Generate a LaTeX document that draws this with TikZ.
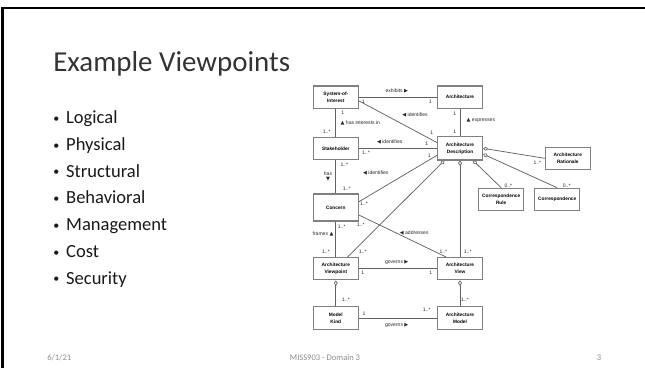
\documentclass[tikz,border=0pt]{standalone}
\usepackage{fontspec}
\setmainfont{Carlito}
\newfontfamily\diagfont{Liberation Sans}
\newfontfamily\trifont{DejaVu Sans}
\usetikzlibrary{arrows.meta}

% little filled triangles for the reading direction of an association
\newcommand{\trR}{{\trifont ▶}}
\newcommand{\trL}{{\trifont ◀}}
\newcommand{\trU}{{\trifont ▲}}
\newcommand{\trD}{{\trifont ▼}}
% small slide bullet
\newcommand{\slidebullet}{\raisebox{0.9pt}{\fontsize{9}{9}\selectfont•}}

\tikzset{
  umlbox/.style={draw=black!50, line width=0.8pt, fill=white, minimum width=33.75pt,
    minimum height=16.8pt, inner sep=0.5pt, align=center,
    font=\diagfont\bfseries\fontsize{3.6}{5.2}\selectfont},
  conn/.style={draw=black!62, line width=0.55pt},
  agg/.style={conn, -{Diamond[open, fill=white, length=4pt, width=3pt, line width=0.5pt]}},
  lbl/.style={inner sep=0.3pt, text=black!85, font=\diagfont\fontsize{3.8}{4.4}\selectfont},
  mult/.style={lbl},
  bulletitem/.style={anchor=base west, inner sep=0pt, text=black!90, font=\fontsize{13.9}{16}\selectfont},
  foot/.style={inner sep=0pt, text=black!45, font=\fontsize{6.4}{7}\selectfont}
}

\begin{document}
\begin{tikzpicture}[x=0.75pt,y=0.75pt,yscale=-1]
\path[use as bounding box] (0,0) rectangle (645,368);

%Slide frame
\draw [line width=1.9pt] (2.5,368) -- (2.5,8) -- (645,8) ;

% Text Node
\node (title) [anchor=base west, inner sep=0pt, text=black!80, font=\fontsize{21.7}{26}\selectfont] at (53,71.7) {Example Viewpoints};
% Bullets
\foreach \txt [count=\i from 0] in {Logical,Physical,Structural,Behavioral,Management,Cost,Security}
  \node (b\i) [bulletitem] at (53,123.5+26.75*\i) {\slidebullet\hspace{5.2pt}\txt};

%Shape: Rectangle
\node (soi) [umlbox] at (335.8,97.2) {System-of-\\Interest};
\node (arch) [umlbox] at (460,97.2) {Architecture};
\node (stk) [umlbox] at (335.8,148.3) {Stakeholder};
\node (ad) [umlbox, minimum height=17.5pt] at (460,148.3) {Architecture\\Description};
\node (rat) [umlbox] at (567.8,158.3) {Architecture\\Rationale};
\node (crule) [umlbox] at (501.2,199.5) {Correspondence\\Rule};
\node (corr) [umlbox] at (557.2,199.5) {Correspondence};
\node (conc) [umlbox, minimum height=20.25pt] at (335.8,207.5) {Concern};
\node (avp) [umlbox] at (335.8,268.7) {Architecture\\Viewpoint};
\node (avw) [umlbox] at (460,268.7) {Architecture\\View};
\node (mk) [umlbox] at (335.8,318) {Model\\Kind};
\node (am) [umlbox] at (460,318) {Architecture\\Model};

%Straight Lines
\draw [conn] (soi.east) -- (arch.west) ;
\draw [conn] (soi.-9) -- (ad.166) ;
\draw [conn] (soi.south) -- (stk.north) ;
\draw [conn] (arch.south) -- (ad.north) ;
\draw [conn] (stk.east) -- (ad.west) ;
\draw [conn] (conc.14) -- (ad.197) ;
\draw [conn] (stk.south) -- (conc.north) ;
\draw [conn] (conc.south) -- (avp.north) ;
\draw [conn] (conc.-18) -- (avw.140) ;
\draw [conn] (avp.east) -- (avw.west) ;
\draw [conn] (mk.east) -- (am.west) ;
%Aggregations
\draw [agg] (avp.45) -- (ad.218) ;
\draw [agg] (avw.north) -- (ad.south) ;
\draw [agg] (crule.north) -- (ad.-43) ;
\draw [agg] (corr.north) -- (ad.-14) ;
\draw [agg] (rat.west) -- (ad.east) ;
\draw [agg] (mk.north) -- (avp.south) ;
\draw [agg] (am.north) -- (avw.south) ;

% Text Node
\node (l1) [lbl] at (396.8,90.7) {exhibits \trR};
\node (l2) [lbl] at (415,114.7) {\trL\ identifies};
\node (l3) [lbl, anchor=west] at (340,122.7) {\trU\ has interests in};
\node (l4) [lbl, anchor=west] at (466,120) {\trU\ expresses};
\node (l5) [lbl] at (389.7,141.7) {\trL\ identifies};
\node (l6) [lbl] at (375.8,172.7) {\trL\ identifies};
\node (l7) [lbl, align=center] at (328,176.8) {has\\[-0.4pt]\trD};
\node (l8) [lbl] at (323,234) {frames \trU};
\node (l9) [lbl] at (414.2,232.7) {\trL\ addresses};
\node (l10) [lbl] at (396.7,262.7) {governs \trR};
\node (l11) [lbl] at (396.7,325) {governs \trR};

% Multiplicities
\foreach \p/\t [count=\k] in {
    {(363.3,101.5)}/1, {(430.3,101.5)}/1, {(431.7,133)}/1,
    {(342.7,112.3)}/1, {(326.7,131.7)}/1..*,
    {(454.7,113.3)}/1, {(454.7,132)}/1,
    {(366,152.7)}/1..*, {(426.7,144)}/1,
    {(364,204)}/1..*, {(429.3,156)}/1,
    {(344.3,164.3)}/1..*, {(346.7,188.3)}/1..*,
    {(341.7,226.7)}/1..*, {(326,251.7)}/1..*,
    {(360.7,224.3)}/1..*, {(443.3,251.7)}/1..*,
    {(362.7,251.7)}/1..*, {(467.7,251.7)}/1..*,
    {(508.3,186)}/0..*, {(566.7,186)}/0..*, {(537.3,162.7)}/1..*,
    {(362.7,272.7)}/1, {(430.7,272.7)}/1,
    {(346,300)}/1..*, {(465,300)}/1..*,
    {(364,313.3)}/1, {(426.7,310)}/1..*}
  \node (m\k) [mult] at \p {\t};

% Footer
\node (date) [foot, anchor=west] at (47,357.5) {6/1/21};
\node (course) [foot] at (325,357.5) {MISS903 - Domain 3};
\node (pgno) [foot] at (599,357.5) {3};
\end{tikzpicture}
\end{document}
